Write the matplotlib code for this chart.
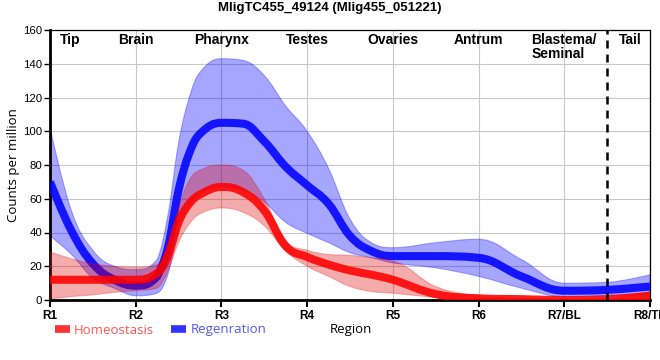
import numpy as np
import matplotlib
matplotlib.use('Agg')
import matplotlib.pyplot as plt
from matplotlib.path import Path
from matplotlib.patches import PathPatch
from matplotlib.lines import Line2D

plt.rcParams['font.family'] = ['Liberation Sans', 'DejaVu Sans']

# sample positions along the body (1 = R1 ... 8 = R8)
pos = [1, 1.25, 1.5, 1.75, 2, 2.25, 2.375, 2.5, 2.625, 2.75, 3, 3.25, 3.5, 3.75,
       4, 4.25, 4.5, 4.75, 5, 5.5, 6, 6.5, 7, 7.5, 8]

homeo_mean = [12, 12, 12, 12, 12, 16, 26, 46, 57, 62.5, 67, 64, 53, 32,
              25.5, 21, 17.5, 15, 12, 3.5, 1, 0.5, 0, 0.5, 2.5]
homeo_high = [28.5, 24.5, 21.5, 20, 19.5, 21, 34, 55, 71, 77, 80, 77, 60, 35,
              29.5, 27, 26.5, 25, 23, 8, 2.5, 1, 0.5, 1, 5]
homeo_low = [0.5, 2, 3, 4.5, 5.5, 7, 17, 34, 45, 51, 54.5, 52, 44, 29,
             20, 14, 8, 5, 4, 1.5, 0, 0, 0, 0, 1]

regen_mean = [70, 41, 21.5, 12, 8.5, 14, 31, 65, 87, 98.5, 105, 104.5, 94, 79,
              68, 57, 38, 29, 26, 26, 25, 14, 5.5, 6, 8]
regen_high = [102, 53, 29.5, 20, 18, 24, 50, 93, 120, 135, 143, 142, 133, 115,
              100, 78, 48, 34, 31, 34, 36, 24, 10, 10.5, 15]
regen_low = [38, 27, 13, 7, 2.5, 4, 15, 43, 56, 63, 67, 65, 58, 46,
             39.5, 34, 28, 25, 22, 19, 14, 7, 2, 2.5, 3]

tick_labels = ['R1', 'R2', 'R3', 'R4', 'R5', 'R6', 'R7/BL', 'R8/TL']
region_names = ['Tip', 'Brain', 'Pharynx', 'Testes', 'Ovaries', 'Antrum', 'Blastema/\nSeminal', 'Tail']
region_x = [1.23, 2, 3, 4, 5, 6, 7, 7.77]


def spline_pts(xs, ys, smoothing=1.5):
    # highcharts style spline control points
    n = len(xs)
    denom = smoothing + 1
    lc = [None] * n
    rc = [None] * n
    for i in range(1, n - 1):
        x, y = xs[i], ys[i]
        lx, ly = xs[i - 1], ys[i - 1]
        nx, ny = xs[i + 1], ys[i + 1]
        lcx = (smoothing * x + lx) / denom
        lcy = (smoothing * y + ly) / denom
        rcx = (smoothing * x + nx) / denom
        rcy = (smoothing * y + ny) / denom
        corr = (rcy - lcy) * (rcx - x) / (rcx - lcx) + y - rcy
        lcy += corr
        rcy += corr
        if lcy > ly and lcy > y:
            lcy = max(ly, y); rcy = 2 * y - lcy
        elif lcy < ly and lcy < y:
            lcy = min(ly, y); rcy = 2 * y - lcy
        if rcy > ny and rcy > y:
            rcy = max(ny, y); lcy = 2 * y - rcy
        elif rcy < ny and rcy < y:
            rcy = min(ny, y); lcy = 2 * y - rcy
        lc[i] = (lcx, lcy)
        rc[i] = (rcx, rcy)
    verts = [(xs[0], ys[0])]
    for i in range(1, n):
        verts.append(rc[i - 1] or (xs[i - 1], ys[i - 1]))
        verts.append(lc[i] or (xs[i], ys[i]))
        verts.append((xs[i], ys[i]))
    return verts


def line_path(xs, ys):
    v = spline_pts(xs, ys)
    codes = [Path.MOVETO] + [Path.CURVE4] * (len(v) - 1)
    return Path(v, codes)


def band_path(xs, lo, hi):
    up = spline_pts(xs, hi)
    dn = spline_pts(xs[::-1], lo[::-1])
    v = up + dn + [up[0]]
    codes = ([Path.MOVETO] + [Path.CURVE4] * (len(up) - 1)
             + [Path.LINETO] + [Path.CURVE4] * (len(dn) - 1) + [Path.CLOSEPOLY])
    return Path(v, codes)


fig = plt.figure(figsize=(6.6, 3.6), dpi=100)
ax = fig.add_axes([50 / 660, 60 / 360, 600 / 660, 270 / 360])
ax.set_xlim(1, 8)
ax.set_ylim(0, 160)

blue = '#0000ff'
red = '#ff0000'

ax.add_patch(PathPatch(band_path(pos, regen_low, regen_high), facecolor=(0, 0, 1, 0.35),
                       edgecolor=(0, 0, 1, 0.3), lw=0.8, zorder=2))
ax.add_patch(PathPatch(line_path(pos, regen_mean), fill=False, edgecolor=blue, alpha=0.88,
                       lw=5.8, capstyle='butt', zorder=3))
ax.add_patch(PathPatch(band_path(pos, homeo_low, homeo_high), facecolor=(0.88, 0, 0, 0.33),
                       edgecolor=(0.88, 0, 0, 0.25), lw=0.8, zorder=4))
ax.add_patch(PathPatch(line_path(pos, homeo_mean), fill=False, edgecolor=red, alpha=0.88,
                       lw=5.8, capstyle='butt', zorder=5))

ax.axvline(7.5, color='black', lw=1.8, dashes=(3.2, 2.4), zorder=6)

ax.set_xticks(range(1, len(tick_labels) + 1))
ax.set_xticklabels(tick_labels, fontweight='bold', fontsize=8.5)
ax.set_yticks(range(0, 161, 20))
ax.tick_params(axis='y', labelsize=8.2, length=4, width=1, pad=1.5)
ax.tick_params(axis='x', length=5, width=1.5, pad=2)
ax.grid(True, color='#c8c8c8', lw=0.8, zorder=0)
ax.set_axisbelow(True)

for side in ['left', 'bottom']:
    ax.spines[side].set_linewidth(2)
for side in ['top', 'right']:
    ax.spines[side].set_linewidth(0.9)

for name, x in zip(region_names, region_x):
    ax.text(x, 158.5, name, ha='center', va='top', fontsize=10, fontweight='bold',
            multialignment='left', linespacing=1.05, zorder=7)

fig.text(0.5, 1 - 8.5 / 360, 'MligTC455_49124 (Mlig455_051221)', ha='center', va='center',
         fontsize=9.5, fontweight='bold')
fig.text(14 / 660, 1 - 165 / 360, 'Counts per million', rotation=90, ha='center', va='center',
         fontsize=9.5, family=['Open Sans', 'DejaVu Sans'])
fig.text(351 / 660, 1 - 330 / 360, 'Region', ha='center', va='center',
         fontsize=9.5, family=['Open Sans', 'DejaVu Sans'])

handles = [Line2D([], [], color='#ff3333', lw=5.5, solid_capstyle='butt'),
           Line2D([], [], color='#3333ff', lw=5.5, solid_capstyle='butt')]
fig.legend(handles, ['Homeostasis', 'Regenration'], loc='center left',
           bbox_to_anchor=(43 / 660, 1 - 330 / 360), ncol=2, frameon=False,
           handlelength=1.15, handletextpad=0.3, columnspacing=1.3,
           labelcolor=['#ff5555', '#5555ff'],
           prop={'family': ['Open Sans', 'DejaVu Sans'], 'size': 9.5})

fig.savefig('out.png', dpi=100)
